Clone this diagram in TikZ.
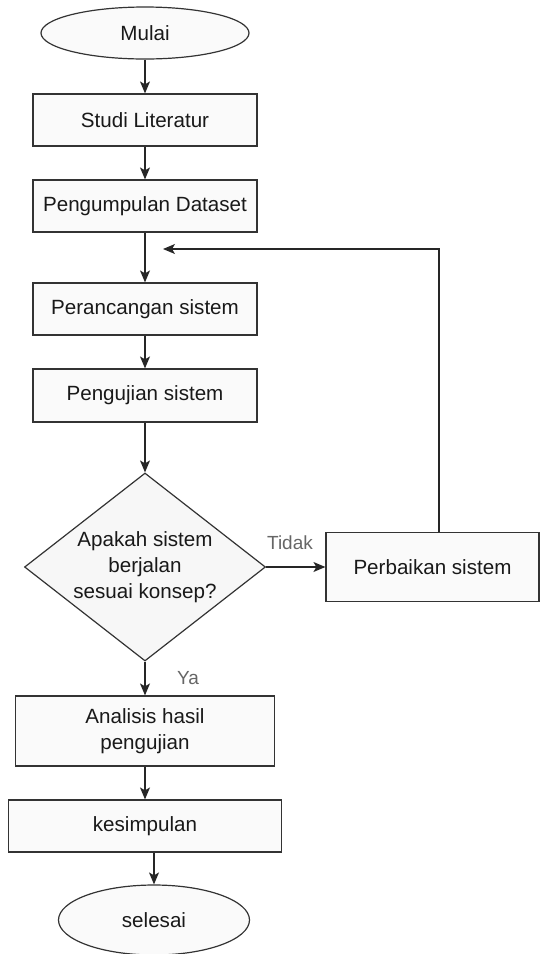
\documentclass[tikz,border=0pt]{standalone}
\usepackage{fontspec}
\setmainfont{Liberation Sans}
\usepackage{tikz}
\usetikzlibrary{positioning, arrows.meta, shapes.geometric}

\begin{document}
\begin{tikzpicture}[x=1pt,y=-1pt,
  every node/.style={font=\fontsize{20.6}{26}\selectfont, text=black!90},
  box/.style={rectangle, draw=black!80, line width=1.2pt, fill=gray!4, inner sep=0pt, align=center},
  terminal/.style={ellipse, draw=black!80, line width=1.2pt, fill=gray!4, inner sep=0pt},
  decision/.style={diamond, aspect=1.28, draw=black!80, line width=1.2pt, fill=gray!6, inner sep=0pt, align=center},
  flow/.style={line width=1.2pt, draw=black!85, -{Stealth[length=12pt,width=10pt,inset=3pt]}},
  jawab/.style={text=black!60, font=\fontsize{19}{22}\selectfont}]
\useasboundingbox (0,0) rectangle (540,954);
% main column
\node[terminal, minimum width=208pt, minimum height=52pt] (mulai) at (145,33) {Mulai};
\node[box, minimum width=224pt, minimum height=52pt] (studi) at (145,120) {Studi Literatur};
\node[box, minimum width=224pt, minimum height=52pt] (dataset) at (145,206) {Pengumpulan Dataset};
\node[box, minimum width=224pt, minimum height=52pt] (rancang) at (145,309) {Perancangan sistem};
\node[box, minimum width=224pt, minimum height=53pt] (uji) at (145,395.5) {Pengujian sistem};
\node[decision, minimum width=241pt, minimum height=188pt] (cek) at (145,567) {Apakah sistem\\berjalan\\sesuai konsep?};
\node[box, minimum width=213pt, minimum height=69pt] (perbaikan) at (432.5,567) {Perbaikan sistem};
\node[box, minimum width=259pt, minimum height=70pt] (analisis) at (145,731) {Analisis hasil\\pengujian};
\node[box, minimum width=273pt, minimum height=52pt] (kesimpulan) at (145,826) {kesimpulan};
\node[terminal, minimum width=191pt, minimum height=70pt] (selesai) at (154,920) {selesai};
% answers
\node[jawab] (tidak) at (290,543) {Tidak};
\node[jawab] (ya) at (188,678) {Ya};
% loop back points
\coordinate (balik) at (439,249);
\coordinate (masuk) at (163,249);
% connectors
\draw[flow] (mulai) -- (studi);
\draw[flow] (studi) -- (dataset);
\draw[flow] (dataset) -- (rancang);
\draw[flow] (rancang) -- (uji);
\draw[flow] (uji) -- (cek);
\draw[flow] (cek) -- (perbaikan);
\draw[flow] (cek) -- (analisis);
\draw[flow] (analisis) -- (kesimpulan);
\draw[flow] (selesai.north |- kesimpulan.south) -- (selesai);
\draw[flow] (perbaikan.north -| balik) -- (balik) -- (masuk);
\end{tikzpicture}
\end{document}
